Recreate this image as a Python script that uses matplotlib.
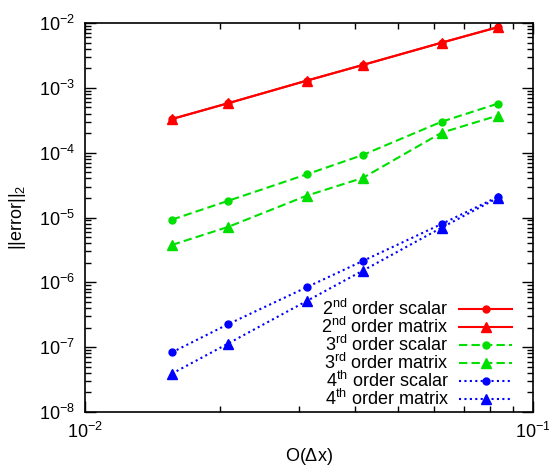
import matplotlib
matplotlib.use('Agg')
import matplotlib.pyplot as plt
from matplotlib.ticker import LogLocator, NullFormatter

plt.rcParams['font.family'] = ['Liberation Sans', 'DejaVu Sans']
plt.rcParams['mathtext.fontset'] = 'custom'
plt.rcParams['mathtext.rm'] = 'Liberation Sans'
plt.rcParams['mathtext.it'] = 'Liberation Sans'
plt.rcParams['mathtext.default'] = 'regular'

# grid spacing dx
dx = [1/64, 1/48, 1/32, 1/24, 1/16, 1/12]

err2_scalar = [3.30e-4, 5.77e-4, 1.29e-3, 2.25e-3, 4.97e-3, 8.6e-3]
err2_matrix = [3.30e-4, 5.77e-4, 1.29e-3, 2.25e-3, 4.97e-3, 8.6e-3]
err3_scalar = [9.25e-6, 1.80e-5, 4.63e-5, 9.2e-5, 3.0e-4, 5.69e-4]
err3_matrix = [3.77e-6, 7.13e-6, 2.17e-5, 4.07e-5, 2.03e-4, 3.72e-4]
err4_scalar = [8.3e-8, 2.25e-7, 8.4e-7, 2.13e-6, 7.94e-6, 2.07e-5]
err4_matrix = [3.9e-8, 1.13e-7, 5.15e-7, 1.51e-6, 6.96e-6, 2.0e-5]

labels = [r'$2^{nd}$ order scalar', r'$2^{nd}$ order matrix',
          r'$3^{rd}$ order scalar', r'$3^{rd}$ order matrix',
          r'$4^{th}$ order scalar', r'$4^{th}$ order matrix']

fig = plt.figure(figsize=(5.49, 4.68), dpi=100)
ax = fig.add_axes([85/549, 1 - 412/468, 448/549, 389/468])

red, green, blue = '#ff0000', '#00e000', '#0000ff'
dash = (4, 2)
dot = (1, 1.6)

ax.plot(dx, err2_scalar, color=red, lw=1.5, marker='o', ms=5, label=labels[0])
ax.plot(dx, err2_matrix, color=red, lw=1.5, marker='^', ms=7, label=labels[1])
ax.plot(dx, err3_scalar, color=green, lw=1.5, marker='o', ms=5, dashes=dash, label=labels[2])
ax.plot(dx, err3_matrix, color=green, lw=1.5, marker='^', ms=7, dashes=dash, label=labels[3])
ax.plot(dx, err4_scalar, color=blue, lw=1.5, marker='o', ms=5, dashes=dot, label=labels[4])
ax.plot(dx, err4_matrix, color=blue, lw=1.5, marker='^', ms=7, dashes=dot, label=labels[5])

ax.set_xscale('log')
ax.set_yscale('log')
ax.set_xlim(1e-2, 1e-1)
ax.set_ylim(1e-8, 1e-2)

ax.xaxis.set_major_locator(LogLocator(base=10, numticks=10))
ax.xaxis.set_minor_locator(LogLocator(base=10, subs=range(2, 10), numticks=10))
ax.xaxis.set_minor_formatter(NullFormatter())
ax.yaxis.set_major_locator(LogLocator(base=10, numticks=10))
ax.yaxis.set_minor_locator(LogLocator(base=10, subs=range(2, 10), numticks=10))
ax.yaxis.set_minor_formatter(NullFormatter())

ax.tick_params(which='both', direction='in', top=True, right=True, labelsize=13, width=1)
ax.tick_params(which='major', length=8, pad=7)
ax.tick_params(which='minor', length=4)
for s in ax.spines.values():
    s.set_linewidth(1.2)

ax.set_xlabel(r'O($\Delta$x)', fontsize=13, labelpad=3)
ax.set_ylabel(r'||error||$_2$', fontsize=13, labelpad=8)

ax.legend(loc='lower right', frameon=False, markerfirst=False, fontsize=13,
          handlelength=2.9, handletextpad=0.6, labelspacing=-0.11,
          borderaxespad=0.3, bbox_to_anchor=(0.981, -0.026))

fig.savefig('out.png', dpi=100)
